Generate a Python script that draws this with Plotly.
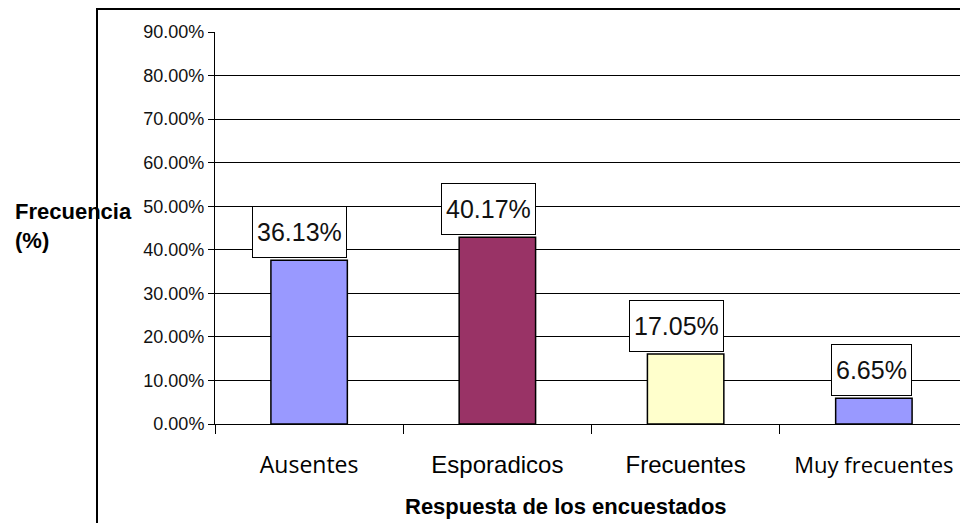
import plotly.graph_objects as go

# Datos
categorias = ["Ausentes", "Esporadicos", "Frecuentes", "Muy frecuentes"]
alturas = [0.3758, 0.429, 0.1607, 0.059]          # altura dibujada de cada barra
etiquetas = ["36.13%", "40.17%", "17.05%", "6.65%"]  # texto de las etiquetas
colores = ["#9999FF", "#993366", "#FFFFCC", "#9999FF"]
fuentes_cat = ["Open Sans", "Liberation Sans", "Liberation Sans", "Open Sans"]
tam_cat = [23, 24, 24, 22]

# la pagina deja 8px de margen en el body, se compensa aqui
OFF = 8
W, H = 968 - OFF, 523 - OFF
L, R, T, B = 215 - OFF, 0, 32 - OFF, 99
pw, ph = W - L - R, H - T - B


def px_x(p):
    return (p - OFF - L) / pw


def px_y(p):
    return (H - B - (p - OFF)) / ph


ticktext = [
    f'<span style="font-family:{f}; font-size:{s}px">{c}</span>'
    for c, f, s in zip(categorias, fuentes_cat, tam_cat)
]

fig = go.Figure()
fig.add_trace(go.Bar(
    x=categorias,
    y=alturas,
    width=0.406,
    marker=dict(color=colores, line=dict(color="black", width=1.5)),
    hoverinfo="skip",
))

# etiquetas con recuadro, alineadas al borde derecho de cada barra
for i, (c, v, t) in enumerate(zip(categorias, alturas, etiquetas)):
    fig.add_annotation(
        x=i + 0.203, y=v, xref="x", yref="y",
        xanchor="right", yanchor="bottom",
        text=t, showarrow=False, yshift=2,
        font=dict(family="Liberation Sans", size=25, color="#111"),
        bgcolor="white", bordercolor="black", borderwidth=1, borderpad=4,
        height=42,
    )

# titulo eje y (horizontal)
fig.add_annotation(
    x=px_x(13), y=px_y(226), xref="paper", yref="paper",
    xanchor="left", yanchor="middle", align="left", showarrow=False,
    text="<b>Frecuencia<br>(%)</b>",
    font=dict(family="Liberation Sans", size=22, color="black"),
)

# titulo eje x
fig.add_annotation(
    x=px_x(566), y=px_y(506), xref="paper", yref="paper",
    xanchor="center", yanchor="middle", showarrow=False,
    text="<b>Respuesta de los encuestados</b>",
    font=dict(family="Liberation Sans", size=22, color="black"),
)

# marco exterior del grafico
fig.add_shape(
    type="rect", xref="paper", yref="paper",
    x0=px_x(97), x1=px_x(1000), y0=px_y(560), y1=px_y(9),
    line=dict(color="black", width=2), fillcolor="rgba(0,0,0,0)", layer="above",
)

fig.update_layout(
    width=W, height=H,
    margin=dict(l=L, r=R, t=T, b=B),
    paper_bgcolor="white", plot_bgcolor="white",
    showlegend=False,
    font=dict(family="Liberation Sans", color="black"),
    bargap=0.594,
)
fig.update_xaxes(
    type="category",
    tickmode="array", tickvals=categorias, ticktext=ticktext,
    tickson="boundaries", ticks="outside", ticklen=9, tickcolor="black",
    showline=True, linecolor="black", linewidth=1,
    ticklabelstandoff=34,
    showgrid=False,
    range=[-0.5, 3.5],
)
fig.update_yaxes(
    range=[0, 0.9], dtick=0.1, tickformat=".2%",
    showgrid=True, gridcolor="black", gridwidth=1,
    showline=True, linecolor="black", linewidth=1,
    ticks="outside", ticklen=6, tickcolor="black",
    tickfont=dict(family="Liberation Sans", size=18, color="#111"),
    zeroline=False,
)

fig.write_html("out.html")
